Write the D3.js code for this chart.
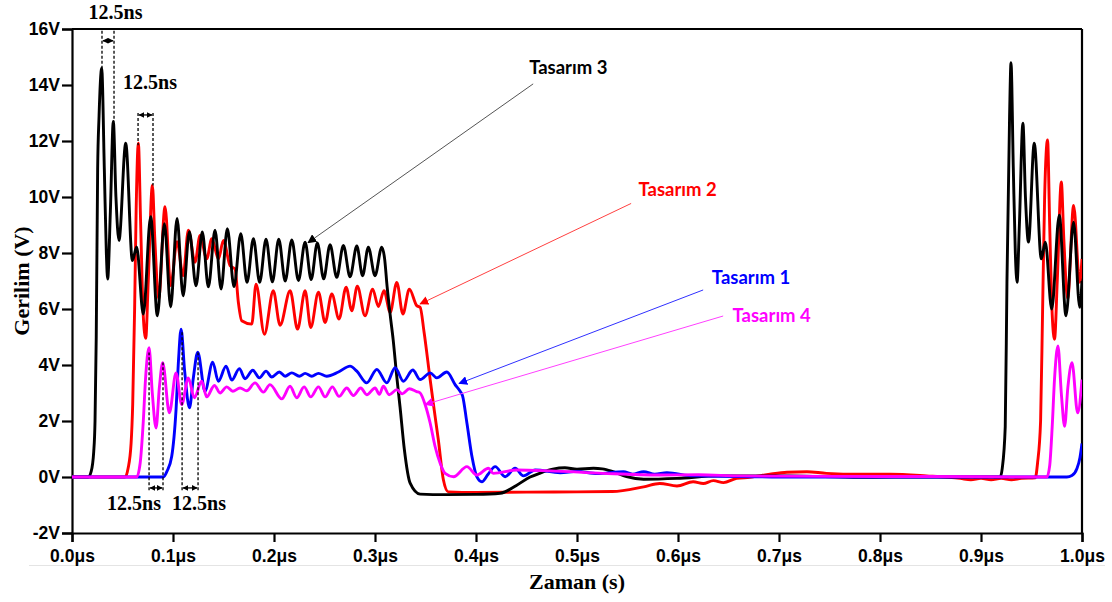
<!DOCTYPE html>
<html><head><meta charset="utf-8">
<script src="https://cdn.jsdelivr.net/npm/d3@7"></script>
<style>
html,body{margin:0;padding:0;background:#fff;}
svg{display:block;}
</style></head>
<body>
<svg id="chart" width="1112" height="602"></svg>
<script>
// ---------- DATA (time in µs, voltage in V) ----------
const yTicks = [-2,0,2,4,6,8,10,12,14,16];
const xTicks = [0,0.1,0.2,0.3,0.4,0.5,0.6,0.7,0.8,0.9,1.0];
const seriesNames = ["Tasarım 1","Tasarım 2","Tasarım 3","Tasarım 4"];
const seriesColors = ["#0000ff","#ff0000","#000000","#ff00ff"];

const tasarim3 = [
[0,0],[0.016,0],[0.019,0.2],[0.0215,0.9],[0.0228,2],[0.024,5],[0.0254,11],[0.0268,12.9],[0.0294,14.6],
[0.032,11],[0.034,8],[0.0353,7.07],[0.038,9.5],[0.0409,12.7],[0.0435,10],[0.0465,8.45],[0.0532,11.92],
[0.0598,7.73],[0.064,8.22],[0.0706,5.82],[0.0779,9.3],[0.0845,5.76],[0.0915,9.05],[0.0977,6.07],[0.104,9.23],
[0.110,6.47],[0.1162,8.76],[0.1228,6.83],[0.129,8.75],[0.135,6.79],[0.1416,8.81],[0.1476,6.71],[0.1538,8.87],
[0.1604,6.8],[0.1671,8.69],[0.1733,6.95],[0.1796,8.51],[0.1858,6.95],[0.1921,8.49],[0.1984,6.97],[0.2047,8.49],
[0.2111,7.0],[0.2176,8.47],[0.2242,7.02],[0.2308,8.39],[0.2368,7.05],[0.2429,8.36],[0.2492,7.08],[0.2555,8.3],
[0.2621,7.13],[0.2687,8.27],[0.2753,7.15],[0.282,8.25],[0.2877,7.19],[0.2934,8.21],[0.3,7.19],[0.3067,8.21],
[0.3095,7.8],[0.312,6.8],[0.315,5.8],[0.318,4.9],[0.3215,3.6],[0.3248,2.5],[0.329,1.0],[0.3348,-0.22],
[0.3447,-0.61],[0.37,-0.63],[0.40,-0.62],[0.424,-0.58],[0.44,-0.3],[0.4536,0.0],[0.4635,0.14],[0.476,0.28],
[0.488,0.33],[0.50,0.28],[0.5163,0.31],[0.525,0.29],[0.535,0.2],[0.549,0.01],[0.566,-0.08],[0.599,-0.05],
[0.64,0.04],[0.71,0.04],[0.78,-0.01],[0.85,0.0],[0.919,0.0],
[0.921,0.3],[0.924,1.8],[0.9257,6.97],[0.9283,12.9],[0.9297,14.8],[0.932,11],[0.934,8],[0.9357,6.95],
[0.938,9],[0.9415,12.64],[0.944,10],[0.947,8.39],[0.9527,11.92],[0.9597,7.79],[0.9637,8.39],[0.970,6.0],
[0.9775,9.35],[0.9841,5.76],[0.9917,9.1],[0.9977,6.06],[1.0,7.0]
];

const tasarim2 = [
[0,0],[0.0525,0],[0.0555,0.3],[0.0585,1.2],[0.0601,2.6],[0.062,6],[0.0635,9.5],[0.0657,11.92],
[0.068,9],[0.0705,5.8],[0.073,4.95],[0.0755,7],[0.0796,10.42],[0.082,8.5],[0.0858,6.36],[0.0921,9.65],
[0.0977,6.83],[0.104,8.4],[0.110,7.19],[0.1152,8.81],[0.1218,7.67],[0.1268,8.63],[0.1334,7.79],[0.1384,8.51],
[0.145,7.79],[0.1499,8.45],[0.1565,7.55],[0.1614,7.43],[0.1647,6.24],[0.168,5.58],[0.178,5.46],[0.1822,6.89],
[0.1905,5.1],[0.1993,6.65],[0.206,5.42],[0.216,6.65],[0.2233,5.28],[0.2308,6.65],[0.2364,5.34],[0.244,6.6],
[0.2506,5.52],[0.2572,6.54],[0.2644,5.64],[0.2714,6.78],[0.277,5.94],[0.2825,6.81],[0.2901,5.76],[0.2977,6.71],
[0.3033,6.09],[0.3089,6.65],[0.315,5.88],[0.3216,6.95],[0.3276,5.82],[0.334,6.71],[0.3413,6.12],[0.3447,6.06],
[0.3486,5.17],[0.3546,3.48],[0.3586,2.4],[0.3627,1.33],[0.3677,-0.1],[0.3726,-0.53],[0.40,-0.55],[0.45,-0.54],
[0.50,-0.53],[0.535,-0.52],[0.566,-0.35],[0.582,-0.23],[0.599,-0.32],[0.615,-0.17],[0.625,-0.23],[0.635,-0.13],
[0.645,-0.2],[0.658,-0.05],[0.671,-0.01],[0.691,0.1],[0.708,0.17],[0.7277,0.19],[0.747,0.13],[0.78,0.1],
[0.81,0.1],[0.846,0.04],[0.8795,-0.05],[0.89,-0.1],[0.9,-0.05],[0.91,-0.1],[0.92,-0.05],[0.93,-0.1],
[0.94,-0.05],[0.9537,-0.03],[0.956,0.5],[0.959,2],[0.961,6],[0.963,10],[0.9659,12.04],[0.968,9],
[0.9705,5.8],[0.9728,4.92],[0.9755,7],[0.9795,10.54],[0.982,8.5],[0.9858,6.36],[0.9917,9.7],[0.9977,6.95],[1.0,7.79]
];

const tasarim1 = [
[0,0],[0.0905,0],[0.094,0.2],[0.0987,0.73],[0.103,2.4],[0.1055,4.2],[0.108,5.28],[0.1115,3.8],
[0.1163,2.47],[0.12,3.5],[0.1245,4.46],[0.1317,3.06],[0.1393,4.1],[0.1449,3.42],[0.1525,3.96],[0.1582,3.46],
[0.1657,3.87],[0.1713,3.51],[0.179,3.81],[0.1855,3.54],[0.1921,3.78],[0.1978,3.57],[0.2053,3.75],[0.211,3.6],
[0.2176,3.72],[0.2251,3.6],[0.2308,3.7],[0.2374,3.6],[0.244,3.7],[0.2522,3.6],[0.2638,3.75],[0.2753,3.96],
[0.282,3.78],[0.2918,3.36],[0.3018,3.84],[0.3117,3.36],[0.3199,3.9],[0.3281,3.42],[0.3374,3.82],[0.3447,3.48],
[0.3546,3.72],[0.3612,3.54],[0.3711,3.75],[0.3793,3.3],[0.3843,3.06],[0.3867,2.9],[0.391,1.93],[0.396,0.73],
[0.4008,0.01],[0.4058,-0.17],[0.412,0.1],[0.419,0.37],[0.4289,0.01],[0.4387,0.31],[0.447,0.04],[0.4586,0.25],
[0.4833,0.15],[0.50,0.2],[0.52,0.12],[0.546,0.19],[0.555,0.1],[0.566,0.19],[0.577,0.1],[0.589,0.15],
[0.615,0.04],[0.66,0.02],[0.7,0],[0.985,0],[0.99,0.05],[0.995,0.3],[0.998,0.7],[1.0,1.2]
];

const tasarim4 = [
[0,0],[0.064,0],[0.0675,0.5],[0.0706,2.0],[0.0728,3.5],[0.0763,4.62],[0.0795,3.0],[0.0832,1.75],
[0.0865,3.2],[0.0898,4.08],[0.0964,2.29],[0.103,3.72],[0.1086,2.59],[0.1152,3.54],[0.1211,2.83],[0.1284,3.42],
[0.1334,2.86],[0.141,3.27],[0.1466,3.0],[0.1532,3.22],[0.1592,3.06],[0.1664,3.18],[0.173,3.08],[0.1812,3.36],
[0.1895,3.03],[0.196,3.3],[0.2077,2.79],[0.2159,3.24],[0.2225,2.83],[0.2298,3.22],[0.2364,2.86],[0.244,3.22],
[0.2506,2.86],[0.2578,3.22],[0.2644,2.88],[0.272,3.18],[0.2786,2.91],[0.2859,3.18],[0.2918,2.94],[0.3001,3.18],
[0.3043,2.95],[0.3083,3.24],[0.314,2.94],[0.3216,3.12],[0.327,2.97],[0.334,3.15],[0.3413,3.05],[0.3447,3.0],
[0.3496,2.59],[0.3546,1.93],[0.3595,1.09],[0.3645,0.49],[0.3694,0.13],[0.3777,0.01],[0.391,0.37],[0.4008,0.07],
[0.4123,0.31],[0.4172,0.13],[0.4404,0.25],[0.473,0.22],[0.526,0.13],[0.582,0.07],[0.62,0.08],[0.66,0.04],
[0.7,0.03],[0.8,0.02],[0.9,0.01],[0.9653,0],[0.968,0.4],[0.9705,1.8],[0.9728,3.5],[0.9762,4.68],
[0.9795,3.0],[0.9828,1.81],[0.986,3.2],[0.9901,4.08],[0.9957,2.29],[1.0,3.48]
];

// callout annotations: [label, tip t, tip V, line start t, line start V, label t, label V]
const callouts = [
["Tasarım 3",0.2337,8.37,0.4566,14.04,0.4526,14.4],
["Tasarım 2",0.3447,6.18,0.5536,9.77,0.5609,10.03],
["Tasarım 1",0.3833,3.34,0.6249,6.68,0.6335,6.89],
["Tasarım 4",0.3496,2.59,0.6447,5.75,0.654,5.52]
];
const calloutColors = ["#555555","#ff4040","#3030ff","#ff40ff"];
const calloutText = ["#000000","#ff0000","#0000ff","#ff00ff"];

// 12.5ns period markers: [t left, V top left, t right, V top right, V bottom, arrow V, label t, label V]
const periodMarks = [
[0.0297,14.6,0.0416,12.7,15.94,15.58,0.0431,16.37],
[0.0654,11.85,0.0802,10.41,13.0,12.93,0.0773,13.84],
[0.0763,4.45,0.0901,4.09,-0.47,-0.39,0.0614,-1.18],
[0.109,5.17,0.1248,4.45,-0.47,-0.39,0.1258,-1.18]
];
const periodLabel = "12.5ns";

// ---------- CHART ----------
const W = 1112, H = 602;
const m = {left:72, right:30, top:29, bottom:69};
const svg = d3.select("#chart");
const x = d3.scaleLinear().domain([0,1]).range([m.left, W-m.right]);
const y = d3.scaleLinear().domain([-2,16]).range([H-m.bottom, m.top]);

// faint image-border line
svg.append("line").attr("x1",29).attr("x2",1105).attr("y1",565.5).attr("y2",565.5)
  .attr("stroke","#e4e4e4").attr("stroke-width",1);

const defs = svg.append("defs");
function marker(id,color,size){
  defs.append("marker").attr("id",id).attr("viewBox","0 0 10 10").attr("refX",9).attr("refY",5)
    .attr("markerWidth",size).attr("markerHeight",size).attr("orient","auto-start-reverse")
    .attr("markerUnits","userSpaceOnUse")
    .append("path").attr("d","M0,0L10,5L0,10z").attr("fill",color);
}
calloutColors.forEach((c,i)=>marker("arr"+i,calloutText[i],9));
marker("arrK","#000",6);

// axes
const yAxis = d3.axisLeft(y).tickValues(yTicks).tickFormat(d=>d+"V").tickSize(10).tickPadding(2);
const xAxis = d3.axisBottom(x).tickValues(xTicks).tickFormat(d=>d.toFixed(1)+"μs").tickSize(9).tickPadding(8);
const gy = svg.append("g").attr("transform",`translate(${m.left},0)`).call(yAxis);
const gx = svg.append("g").attr("transform",`translate(0,${H-m.bottom})`).call(xAxis);
[gx,gy].forEach(g=>{
  g.selectAll("path").attr("stroke","#000").attr("stroke-width",2.2);
  g.selectAll("line").attr("stroke","#000").attr("stroke-width",2.2);
  g.selectAll("text").attr("fill","#000").style("font-family","'Liberation Sans',Arial,sans-serif")
    .style("font-weight","bold").style("font-size","17.5px");
});
// frame top/right
svg.append("line").attr("x1",x(0)).attr("x2",x(1)).attr("y1",y(16)).attr("y2",y(16)).attr("stroke","#000").attr("stroke-width",2.2);
svg.append("line").attr("x1",x(1)).attr("x2",x(1)).attr("y1",y(16)).attr("y2",y(-2)).attr("stroke","#000").attr("stroke-width",2.2);

// titles
svg.append("text").attr("x",(x(0)+x(1))/2).attr("y",589).attr("text-anchor","middle")
  .style("font-family","'Liberation Serif','Times New Roman',serif").style("font-weight","bold").style("font-size","22px")
  .text("Zaman (s)");
svg.append("text").attr("transform",`translate(29,${(y(-2)+y(16))/2}) rotate(-90)`).attr("text-anchor","middle")
  .style("font-family","'Liberation Serif','Times New Roman',serif").style("font-weight","bold").style("font-size","22px")
  .text("Gerilim (V)");

// series
const line = d3.line().x(d=>x(d[0])).y(d=>y(d[1])).curve(d3.curveMonotoneX);
const clip = defs.append("clipPath").attr("id","plotclip").append("rect")
  .attr("x",x(0)).attr("y",y(16)).attr("width",x(1)-x(0)).attr("height",y(-2)-y(16));
const plot = svg.append("g").attr("clip-path","url(#plotclip)");
const drawOrder = [[tasarim2,1],[tasarim3,2],[tasarim1,0],[tasarim4,3]];
drawOrder.forEach(([data,i])=>{
  plot.append("path").datum(data).attr("d",line).attr("fill","none")
    .attr("stroke",seriesColors[i]).attr("stroke-width",2.9).attr("stroke-linejoin","round")
    .attr("data-name",seriesNames[i]);
});

// period markers
const pm = svg.append("g");
periodMarks.forEach(p=>{
  const [tl,vl,tr,vr,vb,va,lt,lv] = p;
  const yb = y(vb);
  pm.append("line").attr("x1",x(tl)).attr("x2",x(tl)).attr("y1",yb).attr("y2",y(vl))
    .attr("stroke","#000").attr("stroke-width",1.3).attr("stroke-dasharray","3,2");
  pm.append("line").attr("x1",x(tr)).attr("x2",x(tr)).attr("y1",yb).attr("y2",y(vr))
    .attr("stroke","#000").attr("stroke-width",1.3).attr("stroke-dasharray","3,2");
  pm.append("line").attr("x1",x(tl)+1).attr("x2",x(tr)-1).attr("y1",y(va)).attr("y2",y(va))
    .attr("stroke","#000").attr("stroke-width",1.3)
    .attr("marker-start","url(#arrK)").attr("marker-end","url(#arrK)");
  pm.append("text").attr("x",x(lt)).attr("y",y(lv)).attr("text-anchor","middle")
    .style("font-family","'Liberation Serif','Times New Roman',serif").style("font-weight","bold")
    .style("font-size","20px").text(periodLabel);
});

// callouts
const cg = svg.append("g");
callouts.forEach((c,i)=>{
  const [lab,tt,tv,st,sv,lt,lv] = c;
  cg.append("line").attr("x1",x(st)).attr("y1",y(sv)).attr("x2",x(tt)).attr("y2",y(tv))
    .attr("stroke",calloutColors[i]).attr("stroke-width",1).attr("marker-end",`url(#arr${i})`);
  cg.append("text").attr("x",x(lt)).attr("y",y(lv)).attr("fill",calloutText[i])
    .style("font-family","Lato,'Open Sans',sans-serif").style("font-weight","bold")
    .style("font-size","18.5px").text(lab);
});
</script>
</body></html>
